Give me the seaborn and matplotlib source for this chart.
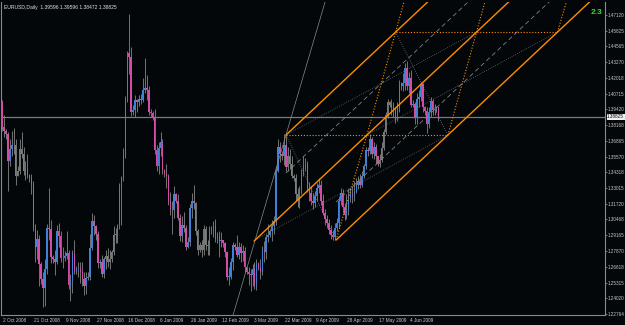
import matplotlib
matplotlib.use("Agg")
import matplotlib.pyplot as plt
import matplotlib.transforms as mtransforms
import numpy as np
import seaborn as sns

# ---------------- data (prices in pips, i.e. price * 10000) ----------------
first_open = 14060
closes = [
    14000, 13800, 13770, 13740, 13520, 13620, 13650, 13650, 13400, 13440,
    13620, 13580, 13440, 13460, 13410, 13380, 13330, 12980, 12820, 12890,
    12680, 12560, 12490, 12640, 12980, 12970, 12740, 12720, 12700, 12950,
    12910, 12730, 12730, 12750, 12770, 12510, 12540, 12770, 12620, 12640,
    12650, 12620, 12560, 12500, 12570, 12580, 12810, 13030, 12990, 12930,
    12690, 12700, 12600, 12720, 12750, 12700, 12720, 12780, 12920, 12930,
    12990, 13300, 13380, 13570, 14030, 14400, 14370, 13920, 13940, 14020,
    14000, 14030, 14020, 14100, 14120, 14100, 13920, 13910, 13880, 13610,
    13480, 13630, 13680, 13450, 13420, 13400, 13200, 13120, 13120, 13250,
    13200, 13060, 12910, 13000, 12980, 12820, 12860, 13140, 13200, 13180,
    12950, 12800, 12840, 12800, 12970, 12840, 12830, 12950, 12960, 12990,
    12890, 12910, 12870, 12880, 12850, 12780, 12580, 12580, 12700, 12840,
    12820, 12760, 12820, 12770, 12790, 12660, 12620, 12600, 12590, 12640,
    12510, 12680, 12660, 12620, 12800, 12780, 12900, 12920, 12950, 12990,
    13030, 13440, 13640, 13580, 13560, 13650, 13470, 13560, 13500, 13400,
    13380, 13250, 13200, 13280, 13420, 13480, 13500, 13300, 13260, 13200,
    13180, 13240, 13300, 13330, 13200, 13100, 13050, 13020, 12960, 12920,
    12900, 12980, 13020, 13200, 13260, 13150, 13080, 13120, 13220, 13250,
    13240, 13270, 13330, 13360, 13330, 13400, 13480, 13610, 13600, 13700,
    13580, 13640, 13560, 13500, 13530, 13630, 13760, 13900, 14000, 13980,
    13960, 13940, 13890, 13950, 14150, 14130, 14160, 14280, 14130, 14200,
    13980, 13990, 13870, 14030, 14040, 14150, 13960, 13930, 13820, 13920,
    14010, 13940, 13950, 13960, 13883,
]
highs = [
    14110, 14020, 13900, 13780, 13760, 13700, 13770, 13790, 13700, 13480,
    13700, 13760, 13640, 13520, 13580, 13420, 13420, 13360, 13010, 12960,
    12920, 12700, 12620, 12720, 13010, 13300, 13040, 12760, 12800, 13000,
    13020, 12950, 12820, 12790, 12950, 12800, 12600, 12800, 12880, 12670,
    12700, 12700, 12700, 12620, 12620, 12620, 12930, 13100, 13080, 13000,
    12950, 12720, 12760, 12740, 12800, 12810, 12800, 12800, 12990, 12980,
    13010, 13340, 13400, 13630, 14050, 14420, 14719, 14450, 13980, 14060,
    14030, 14060, 14070, 14200, 14360, 14220, 14130, 13950, 13930, 13950,
    13650, 13680, 13760, 13700, 13460, 13500, 13420, 13270, 13200, 13320,
    13260, 13250, 13090, 13070, 13110, 13000, 12900, 13170, 13260, 13330,
    13190, 12970, 12860, 12880, 13000, 12990, 12880, 12990, 12990, 13030,
    13050, 12940, 12950, 12940, 12880, 12860, 12790, 12660, 12730, 12860,
    12850, 12920, 12860, 12850, 12840, 12820, 12660, 12660, 12640, 12680,
    12700, 12720, 12700, 12720, 12830, 12870, 12930, 13010, 12970, 13040,
    13070, 13480, 13700, 13680, 13600, 13740, 13735, 13640, 13620, 13560,
    13420, 13420, 13300, 13320, 13460, 13560, 13550, 13520, 13350, 13320,
    13260, 13280, 13340, 13380, 13370, 13250, 13130, 13080, 13050, 13000,
    12960, 13020, 13060, 13240, 13300, 13290, 13180, 13250, 13290, 13300,
    13320, 13360, 13380, 13400, 13420, 13440, 13500, 13640, 13640, 13740,
    13720, 13680, 13660, 13560, 13580, 13680, 13780, 13920, 14030, 14010,
    14030, 14000, 13960, 14000, 14180, 14170, 14240, 14320, 14338, 14250,
    14260, 14020, 14000, 14080, 14100, 14170, 14160, 13970, 13960, 13960,
    14040, 14030, 13990, 13970, 13960,
]
lows = [
    13970, 13770, 13720, 13700, 13280, 13480, 13560, 13580, 13330, 13400,
    13420, 13550, 13410, 13370, 13380, 13350, 13250, 12950, 12700, 12720,
    12500, 12520, 12330, 12340, 12600, 12880, 12690, 12690, 12590, 12680,
    12820, 12700, 12650, 12710, 12720, 12480, 12380, 12450, 12600, 12600,
    12580, 12530, 12500, 12430, 12440, 12550, 12550, 12800, 12920, 12880,
    12650, 12650, 12580, 12570, 12640, 12660, 12640, 12700, 12760, 12850,
    12850, 12970, 13000, 13360, 13550, 14000, 14230, 13890, 13900, 13880,
    13920, 13970, 13990, 14000, 14080, 14020, 13900, 13880, 13860, 13580,
    13440, 13420, 13560, 13420, 13390, 13300, 13160, 13080, 12930, 13060,
    13180, 13040, 12870, 12860, 12940, 12800, 12810, 12830, 13060, 13130,
    12920, 12760, 12780, 12740, 12760, 12800, 12760, 12760, 12930, 12900,
    12860, 12850, 12740, 12820, 12820, 12740, 12550, 12510, 12560, 12630,
    12800, 12740, 12720, 12700, 12710, 12620, 12600, 12510, 12460, 12500,
    12480, 12470, 12630, 12560, 12590, 12700, 12720, 12860, 12900, 12870,
    12930, 13000, 13430, 13510, 13530, 13490, 13440, 13440, 13460, 13380,
    13360, 13200, 13150, 13140, 13250, 13400, 13440, 13270, 13200, 13160,
    13130, 13150, 13200, 13260, 13160, 13080, 13000, 12980, 12930, 12890,
    12880, 12878, 12950, 12980, 13160, 13100, 13040, 13050, 13080, 13190,
    13180, 13200, 13260, 13290, 13300, 13310, 13380, 13460, 13560, 13580,
    13550, 13540, 13500, 13480, 13470, 13510, 13610, 13740, 13870, 13960,
    13900, 13880, 13830, 13850, 13920, 14100, 14090, 14100, 14100, 14080,
    13960, 13960, 13820, 13820, 13960, 14010, 13920, 13900, 13750, 13790,
    13880, 13900, 13900, 13920, 13847,
]

price_ticks = [1.47120, 1.45825, 1.44565, 1.43270, 1.42018, 1.40715, 1.39420,
               1.38168, 1.36865, 1.35570, 1.34318, 1.33015, 1.31720, 1.30468,
               1.29165, 1.27870, 1.26618, 1.25315, 1.24020, 1.22764]
date_labels = ["2 Oct 2008", "21 Oct 2008", "9 Nov 2008", "27 Nov 2008",
               "16 Dec 2008", "6 Jan 2009", "26 Jan 2009", "12 Feb 2009",
               "3 Mar 2009", "22 Mar 2009", "9 Apr 2009", "28 Apr 2009",
               "17 May 2009", "4 Jun 2009"]
date_label_bars = [1, 17, 33, 49, 65, 81, 97, 113, 129, 145, 161, 177, 193, 209]
current_price = 1.38825
header = "EURUSD,Daily  1.39596 1.39596 1.38472 1.38825"

# pitchfork anchors: P1 (handle), P2 (March high), P3 (April low)
fork_bars = [129.8, 146.1, 171.7]
fork_prices = [1.2870, 1.3734, 1.2878]
# horizontal construction levels (P3 level, P2 level, projected level)
grid_levels = [1.2878, 1.3734, 1.4573]

# ---------------- build ----------------
c = np.array(closes) / 10000.0
h = np.array(highs) / 10000.0
l = np.array(lows) / 10000.0
o = np.concatenate([[first_open / 10000.0], c[:-1]])
idx = np.arange(len(c))

X_MIN, X_MAX = 0.49, 309.1
Y_MIN, Y_MAX = 1.2267, 1.4818

bg = "#03070a"
sns.set_theme(style="dark", rc={"axes.facecolor": bg, "figure.facecolor": bg})
plt.rcParams["font.family"] = ["Liberation Sans", "DejaVu Sans"]

fig = plt.figure(figsize=(6.25, 3.25), dpi=100)
fig.patch.set_facecolor(bg)
ax = fig.add_axes([1 / 625, 10 / 325, 604 / 625, 313 / 325])
ax.set_facecolor(bg)

up = c >= o
bull_col = "#3d82d6"
bear_col = "#d24ea6"
wick_col = "#858585"

ax.vlines(idx, l, h, color=wick_col, linewidth=0.6, zorder=2)
body_bottom = np.minimum(o, c)
body_h = np.maximum(np.abs(c - o), 0.0004)
ax.bar(idx[up], body_h[up], bottom=body_bottom[up], width=0.75,
       color=bull_col, linewidth=0, zorder=3)
ax.bar(idx[~up], body_h[~up], bottom=body_bottom[~up], width=0.75,
       color=bear_col, linewidth=0, zorder=3)

# current price line
ax.axhline(current_price, color="#7a7a7a", linewidth=0.9, zorder=1)

# ---- pitchfork construction ----
b1, b2, b3 = fork_bars
p1, p2, p3 = fork_prices
mid_b, mid_p = (b2 + b3) / 2, (p2 + p3) / 2
slope = (mid_p - p1) / (mid_b - b1)
# fork lines: upper (through P2), median (from P1), lower (through P3)
anchors = [(b2, p2), (b1, p1), (b3, p3)]


def fork_price(k, bar):
    ab, ap = anchors[k]
    return ap + slope * (bar - ab)


def node(k, m):
    ab, ap = anchors[k]
    return (ab + (grid_levels[m] - ap) / slope, grid_levels[m])


def extend_to_top(pa, pb):
    (xa, ya), (xb, yb) = pa, pb
    s = (yb - ya) / (xb - xa)
    return (xb + (Y_MAX + 0.01 - yb) / s, Y_MAX + 0.01)


orange = "#ff8c00"
gray = "#8a8a8a"

# gray dashed quarter (mid) lines between fork lines
for k0, start_b in [(0, b2), (1, b3)]:
    xs = np.array([start_b, X_MAX])
    ys = (fork_price(k0, xs) + fork_price(k0 + 1, xs)) / 2
    ax.plot(xs, ys, color=gray, linewidth=0.55, linestyle=(0, (6, 4)), zorder=4)

# gray thin steep line through P1 and P2, full height
pa, pb = node(1, 0), node(0, 1)
s_steep = (pb[1] - pa[1]) / (pb[0] - pa[0])
ys_full = np.array([Y_MIN - 0.01, Y_MAX + 0.01])
ax.plot(pa[0] + (ys_full - pa[1]) / s_steep, ys_full, color=gray,
        linewidth=0.5, zorder=4)

# gray dotted reverse diagonals (P2 -> P3 direction)
for (ka, ma), (kb, mb) in [((0, 1), (2, 0)), ((0, 2), (2, 1))]:
    xa, ya = node(ka, ma)
    xb, yb = node(kb, mb)
    ax.plot([xa, xb], [ya, yb], color=gray, linewidth=0.55,
            linestyle=(0, (1, 2)), zorder=4)

# gray dotted shallow diagonals
for (ka, ma), (kb, mb) in [((1, 0), (2, 1)), ((0, 1), (1, 2)), ((1, 1), (2, 2))]:
    xa, ya = node(ka, ma)
    xb, yb = node(kb, mb)
    ax.plot([xa, xb], [ya, yb], color=gray, linewidth=0.5,
            linestyle=(0, (1, 2)), zorder=4)

# orange solid fork lines
for k, (ab, ap) in enumerate(anchors):
    xs = [ab, X_MAX]
    ys = [fork_price(k, ab), fork_price(k, X_MAX)]
    sns.lineplot(x=xs, y=ys, ax=ax, color=orange, linewidth=1.0,
                 zorder=5, legend=False, estimator=None)

# orange dotted horizontal levels between upper and lower fork lines
for m in (1, 2):
    xa, ya = node(0, m)
    xb, yb = node(2, m)
    ax.plot([xa, xb], [ya, yb], color=orange, linewidth=0.8,
            linestyle=(0, (1, 1.6)), zorder=5)

# orange dotted steep diagonals through grid nodes, continued to the top
chains = [[(2, 0), (1, 1), (0, 2)], [(2, 1), (1, 2)], [(2, 2)]]
for chain in chains:
    pts = [node(k, m) for k, m in chain]
    if len(pts) == 1:
        pts = [pts[0], (pts[0][0] + (Y_MAX + 0.01 - pts[0][1]) / s_steep, Y_MAX + 0.01)]
    else:
        pts.append(extend_to_top(pts[-2], pts[-1]))
    ax.plot([q[0] for q in pts], [q[1] for q in pts], color=orange,
            linewidth=0.8, linestyle=(0, (1, 1.6)), zorder=5)

ax.set_xlim(X_MIN, X_MAX)
ax.set_ylim(Y_MIN, Y_MAX)

# axes styling
for side in ["left", "right", "bottom"]:
    ax.spines[side].set_visible(True)
    ax.spines[side].set_color("#8a8a8a")
    ax.spines[side].set_linewidth(0.8)
ax.spines["top"].set_visible(False)

ax.yaxis.tick_right()
ax.set_yticks(price_ticks)
ax.set_yticklabels([f"{v:.5f}" for v in price_ticks])
ax.tick_params(axis="y", direction="out", length=1.5, width=0.6, colors="#8a8a8a",
               labelcolor="#c8c8c8", labelsize=3.3, pad=0.4)
ax.set_xticks(date_label_bars)
ax.set_xticklabels(date_labels, ha="left")
ax.tick_params(axis="x", direction="out", length=2, width=0.6, colors="#8a8a8a",
               labelcolor="#c8c8c8", labelsize=3.4, pad=0.3)
for t in ax.get_xticklabels():
    t.set_transform(t.get_transform() + mtransforms.ScaledTranslation(1 / 100, 0, fig.dpi_scale_trans))
ax.grid(False)
ax.set_xlabel("")
ax.set_ylabel("")

# current price box on the axis
trans = mtransforms.blended_transform_factory(ax.transAxes, ax.transData)
ax.text(1.0035, current_price, f"{current_price:.5f}", transform=trans,
        fontsize=3.3, color="#000000", va="center", ha="left",
        bbox=dict(boxstyle="square,pad=0.12", facecolor="#f0f0f0", edgecolor="none"),
        zorder=10, clip_on=False)

fig.text(4 / 625, 1 - 8 / 325, header, fontsize=3.6, color="#e0e0e0",
         va="center", ha="left")
fig.text(597 / 625, 1 - 12 / 325, "2.3", fontsize=6, color="#2ee02e",
         fontweight="bold", va="center", ha="center")

fig.savefig("out.png", dpi=100, facecolor=bg)
